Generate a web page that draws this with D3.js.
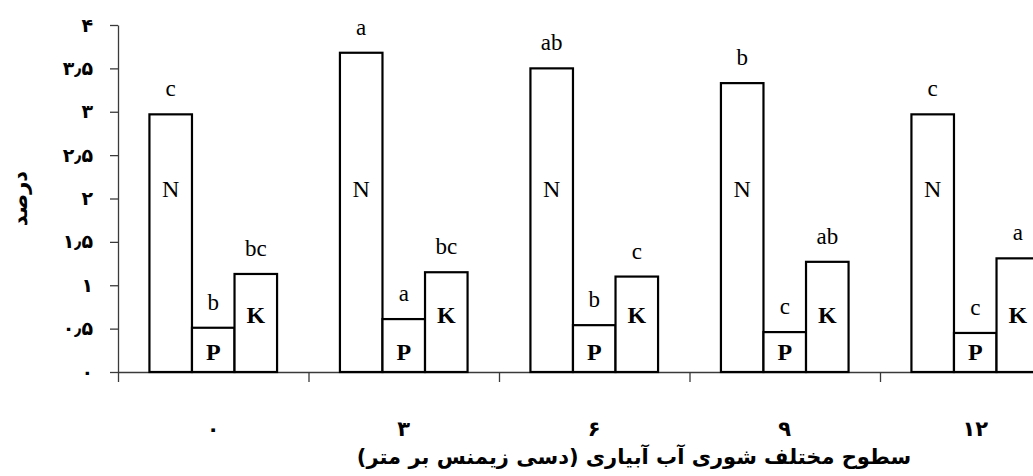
<!DOCTYPE html>
<html>
<head>
<meta charset="utf-8">
<script src="https://cdn.jsdelivr.net/npm/d3@7"></script>
<style>
  body { margin: 0; background: #fff; }
  svg { display: block; }
</style>
</head>
<body>
<svg id="chart" width="1033" height="476"></svg>
<script>
// Nutrient content (%) at each irrigation-water salinity level (dS/m)
const salinityLevels = ["0", "3", "6", "9", "12"];
const nutrients = ["N", "P", "K"];
const nitrogen = [2.97, 3.68, 3.50, 3.33, 2.97];
const phosphorus = [0.51, 0.61, 0.54, 0.46, 0.45];
const potassium = [1.13, 1.15, 1.10, 1.27, 1.31];
// Mean-comparison letters for each bar
const nitrogenGroups = ["c", "a", "ab", "b", "c"];
const phosphorusGroups = ["b", "a", "b", "c", "c"];
const potassiumGroups = ["bc", "bc", "c", "ab", "a"];
const yTicks = [0, 0.5, 1, 1.5, 2, 2.5, 3, 3.5, 4];
const yTitle = "درصد";
const xTitle = "سطوح مختلف شوری آب آبیاری (دسی زیمنس بر متر)";

const seriesValues = { N: nitrogen, P: phosphorus, K: potassium };
const seriesGroups = { N: nitrogenGroups, P: phosphorusGroups, K: potassiumGroups };

const rows = [];
salinityLevels.forEach((lvl, i) => {
  nutrients.forEach(n => rows.push({ level: lvl, nutrient: n, value: seriesValues[n][i], group: seriesGroups[n][i] }));
});

const toPersian = s => String(s).replace(/\d/g, d => "۰۱۲۳۴۵۶۷۸۹"[+d]).replace(".", "٫");

const svg = d3.select("#chart");
const plotLeft = 118, plotTop = 25, plotBottom = 372;
const step = 190.5;

const x = d3.scaleBand()
  .domain(salinityLevels)
  .range([plotLeft, plotLeft + step * salinityLevels.length])
  .paddingInner(0.33)
  .paddingOuter(0.165);
const xInner = d3.scaleBand().domain(nutrients).range([0, x.bandwidth()]);
const y = d3.scaleLinear().domain([0, 4]).range([plotBottom, plotTop]);

const persianFont = "'DejaVu Sans', sans-serif";
const serifFont = "'Liberation Serif', 'Times New Roman', serif";
const axisColor = "#3a3a3a";

// y axis
const yAxis = svg.append("g")
  .attr("transform", `translate(${plotLeft},0)`)
  .call(d3.axisLeft(y).tickValues(yTicks).tickSize(8).tickSizeOuter(0).tickPadding(17).tickFormat(toPersian));
yAxis.select(".domain").attr("stroke", axisColor).attr("stroke-width", 1.3);
yAxis.selectAll(".tick line").attr("stroke", axisColor).attr("stroke-width", 1.3);
yAxis.selectAll(".tick text")
  .attr("font-family", persianFont).attr("font-weight", "bold").attr("font-size", 19).attr("fill", "#000");

// x axis: baseline with ticks at category boundaries
const boundaries = d3.range(salinityLevels.length + 1).map(i => plotLeft + i * x.step());
const xb = d3.scaleLinear().domain([plotLeft, 1033]).range([plotLeft, 1033]);
const xAxis = svg.append("g")
  .attr("transform", `translate(0,${plotBottom})`)
  .call(d3.axisBottom(xb).tickValues(boundaries).tickSize(10).tickSizeOuter(0).tickFormat(""));
xAxis.select(".domain").attr("stroke", axisColor).attr("stroke-width", 1.3);
xAxis.selectAll(".tick line").attr("stroke", axisColor).attr("stroke-width", 1.3);

// category labels
svg.append("g").selectAll("text")
  .data(salinityLevels)
  .join("text")
  .attr("x", d => x(d) + x.bandwidth() / 2)
  .attr("y", 436)
  .attr("text-anchor", "middle")
  .attr("font-family", persianFont).attr("font-weight", "bold").attr("font-size", 21)
  .text(d => toPersian(d));

// bars
const bars = svg.append("g").selectAll("g")
  .data(rows)
  .join("g")
  .attr("transform", d => `translate(${x(d.level) + xInner(d.nutrient)},0)`);

bars.append("rect")
  .attr("x", 0)
  .attr("y", d => y(d.value))
  .attr("width", xInner.bandwidth())
  .attr("height", d => y(0) - y(d.value))
  .attr("fill", "#fff")
  .attr("stroke", "#000")
  .attr("stroke-width", 2.2);

// significance letters above bars
bars.append("text")
  .attr("x", xInner.bandwidth() / 2)
  .attr("y", d => y(d.value) - 18)
  .attr("text-anchor", "middle")
  .attr("font-family", serifFont).attr("font-size", 23)
  .text(d => d.group);

// nutrient names inside bars
const innerLabelAt = { N: 2.02, P: 0.14, K: 0.56 };
bars.append("text")
  .attr("x", xInner.bandwidth() / 2)
  .attr("y", d => y(innerLabelAt[d.nutrient]))
  .attr("text-anchor", "middle")
  .attr("font-family", serifFont)
  .attr("font-weight", d => d.nutrient === "N" ? "normal" : "bold")
  .attr("font-size", 24)
  .text(d => d.nutrient);

// axis titles
svg.append("text")
  .attr("transform", `translate(27,${(plotTop + plotBottom) / 2}) rotate(-90)`)
  .attr("text-anchor", "middle")
  .attr("font-family", persianFont).attr("font-weight", "bold").attr("font-size", 21)
  .text(yTitle);

svg.append("text")
  .attr("x", 634)
  .attr("y", 464)
  .attr("text-anchor", "middle")
  .attr("font-family", persianFont).attr("font-weight", "bold").attr("font-size", 21)
  .text(xTitle);
</script>
</body>
</html>
